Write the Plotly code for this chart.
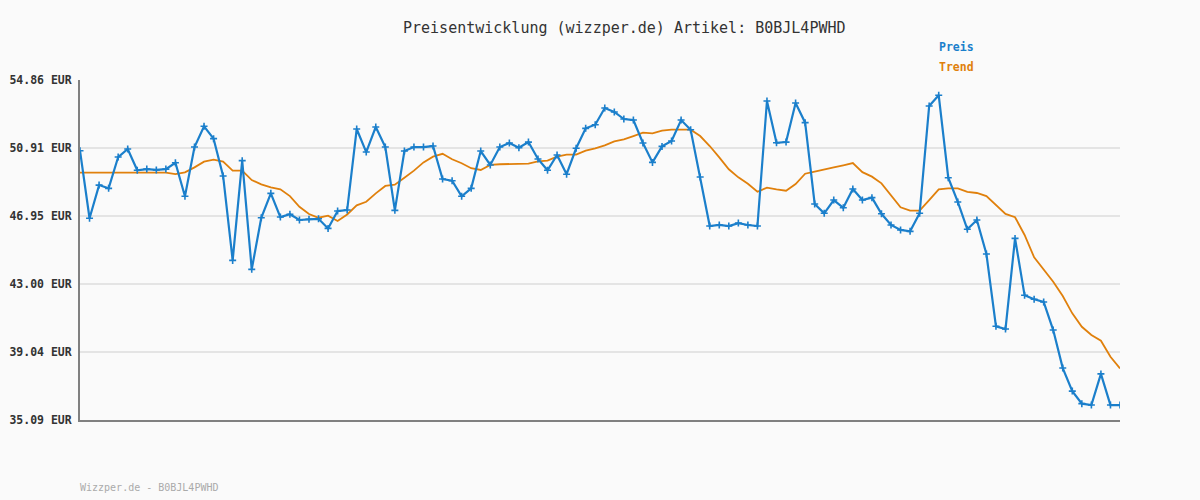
import plotly.graph_objects as go

preis = [50.75, 46.82, 48.75, 48.56, 50.38, 50.85, 49.61, 49.68, 49.63, 49.68,
         50.05, 48.10, 50.96, 52.17, 51.45, 49.28, 44.37, 50.17, 43.85, 46.85,
         48.27, 46.89, 47.05, 46.72, 46.76, 46.79, 46.23, 47.24, 47.30, 52.01,
         50.67, 52.13, 50.96, 47.28, 50.73, 50.96, 50.96, 51.02, 49.10, 49.00,
         48.10, 48.56, 50.73, 49.92, 50.96, 51.20, 50.92, 51.25, 50.27, 49.61,
         50.50, 49.38, 50.89, 52.05, 52.26, 53.23, 53.00, 52.59, 52.53, 51.20,
         50.07, 51.00, 51.31, 52.53, 51.97, 49.22, 46.37, 46.43, 46.37, 46.54,
         46.43, 46.37, 53.64, 51.21, 51.25, 53.52, 52.38, 47.65, 47.11, 47.88,
         47.43, 48.52, 47.88, 48.02, 47.08, 46.43, 46.14, 46.06, 47.11, 53.35,
         53.97, 49.18, 47.77, 46.18, 46.72, 44.74, 40.54, 40.38, 45.65, 42.34,
         42.11, 41.95, 40.32, 38.11, 36.77, 36.04, 35.96, 37.77, 35.96, 35.96]

trend = [49.47, 49.47, 49.47, 49.47, 49.47, 49.47, 49.47, 49.47, 49.47, 49.47,
         49.39, 49.49, 49.78, 50.11, 50.23, 50.11, 49.59, 49.59, 49.04, 48.79,
         48.62, 48.50, 48.11, 47.49, 47.07, 46.85, 46.97, 46.66, 47.04, 47.57,
         47.78, 48.27, 48.70, 48.77, 49.18, 49.59, 50.07, 50.40, 50.57, 50.25,
         50.02, 49.73, 49.63, 49.92, 49.96, 49.98, 49.98, 50.00, 50.13, 50.17,
         50.40, 50.52, 50.52, 50.75, 50.89, 51.06, 51.29, 51.41, 51.60, 51.80,
         51.76, 51.91, 51.97, 51.97, 51.97, 51.60, 51.02, 50.36, 49.67, 49.20,
         48.83, 48.36, 48.60, 48.50, 48.42, 48.81, 49.41, 49.53, 49.67, 49.78,
         49.90, 50.03, 49.50, 49.24, 48.85, 48.15, 47.46, 47.26, 47.26, 47.88,
         48.50, 48.56, 48.56, 48.35, 48.29, 48.11, 47.59, 47.07, 46.88, 45.85,
         44.55, 43.87, 43.13, 42.30, 41.29, 40.51, 40.03, 39.70, 38.77, 38.09]

tick_vals = [35.09, 39.04, 43.00, 46.95, 50.91, 54.86]
tick_text = ["35.09 EUR", "39.04 EUR", "43.00 EUR", "46.95 EUR", "50.91 EUR", "54.86 EUR"]

title_text = "Preisentwicklung (wizzper.de) Artikel: B0BJL4PWHD"
footer_text = "Wizzper.de - B0BJL4PWHD"

x = list(range(len(preis)))
MONO = "DejaVu Sans Mono"
BLUE = "#1b7fcb"
ORANGE = "#e0800c"

fig = go.Figure()
fig.add_trace(go.Scatter(x=x, y=trend, mode="lines", name="Trend",
                         line=dict(color=ORANGE, width=1.8), hoverinfo="skip"))
fig.add_trace(go.Scatter(x=x, y=preis, mode="lines+markers", name="Preis",
                         line=dict(color=BLUE, width=2.2),
                         marker=dict(symbol="cross-thin", size=5,
                                     line=dict(color=BLUE, width=1.6))))

fig.update_layout(
    width=1200, height=500,
    margin=dict(l=80, r=80, t=80, b=80),
    paper_bgcolor="#fafafa", plot_bgcolor="#fafafa",
    showlegend=False,
    xaxis=dict(range=[0, len(preis) - 1], showgrid=False, zeroline=False,
               showticklabels=False, ticks="", showline=True, automargin=False,
               linecolor="#808080", linewidth=2),
    yaxis=dict(range=[35.09, 54.86], tickvals=tick_vals, ticktext=tick_text,
               showgrid=True, gridcolor="#e4e4e4", gridwidth=2, automargin=False,
               zeroline=False, showline=True, linecolor="#808080", linewidth=2,
               ticks="", ticklabelstandoff=4,
               tickfont=dict(family=MONO, size=11.5, color="#333333", weight="bold")),
    annotations=[
        dict(text=title_text, xref="paper", yref="paper",
             x=(624 - 80) / 1040, y=(420 - 28) / 340, xanchor="center", yanchor="middle",
             showarrow=False, font=dict(family=MONO, size=15, color="#333333")),
        dict(text="Preis", xref="paper", yref="paper",
             x=(937 - 80) / 1040, y=(420 - 47) / 340, xanchor="left", yanchor="middle",
             showarrow=False, font=dict(family=MONO, size=11.5, color=BLUE, weight="bold")),
        dict(text="Trend", xref="paper", yref="paper",
             x=(937 - 80) / 1040, y=(420 - 67) / 340, xanchor="left", yanchor="middle",
             showarrow=False, font=dict(family=MONO, size=11.5, color=ORANGE, weight="bold")),
        dict(text=footer_text, xref="paper", yref="paper",
             x=-2 / 1040, y=(420 - 487) / 340, xanchor="left", yanchor="middle",
             showarrow=False, font=dict(family=MONO, size=10, color="#aaaaaa")),
    ],
)

fig.write_html("out.html", config={"displayModeBar": False},
               post_script="document.body.style.margin='0';document.body.style.background='#fafafa';")
